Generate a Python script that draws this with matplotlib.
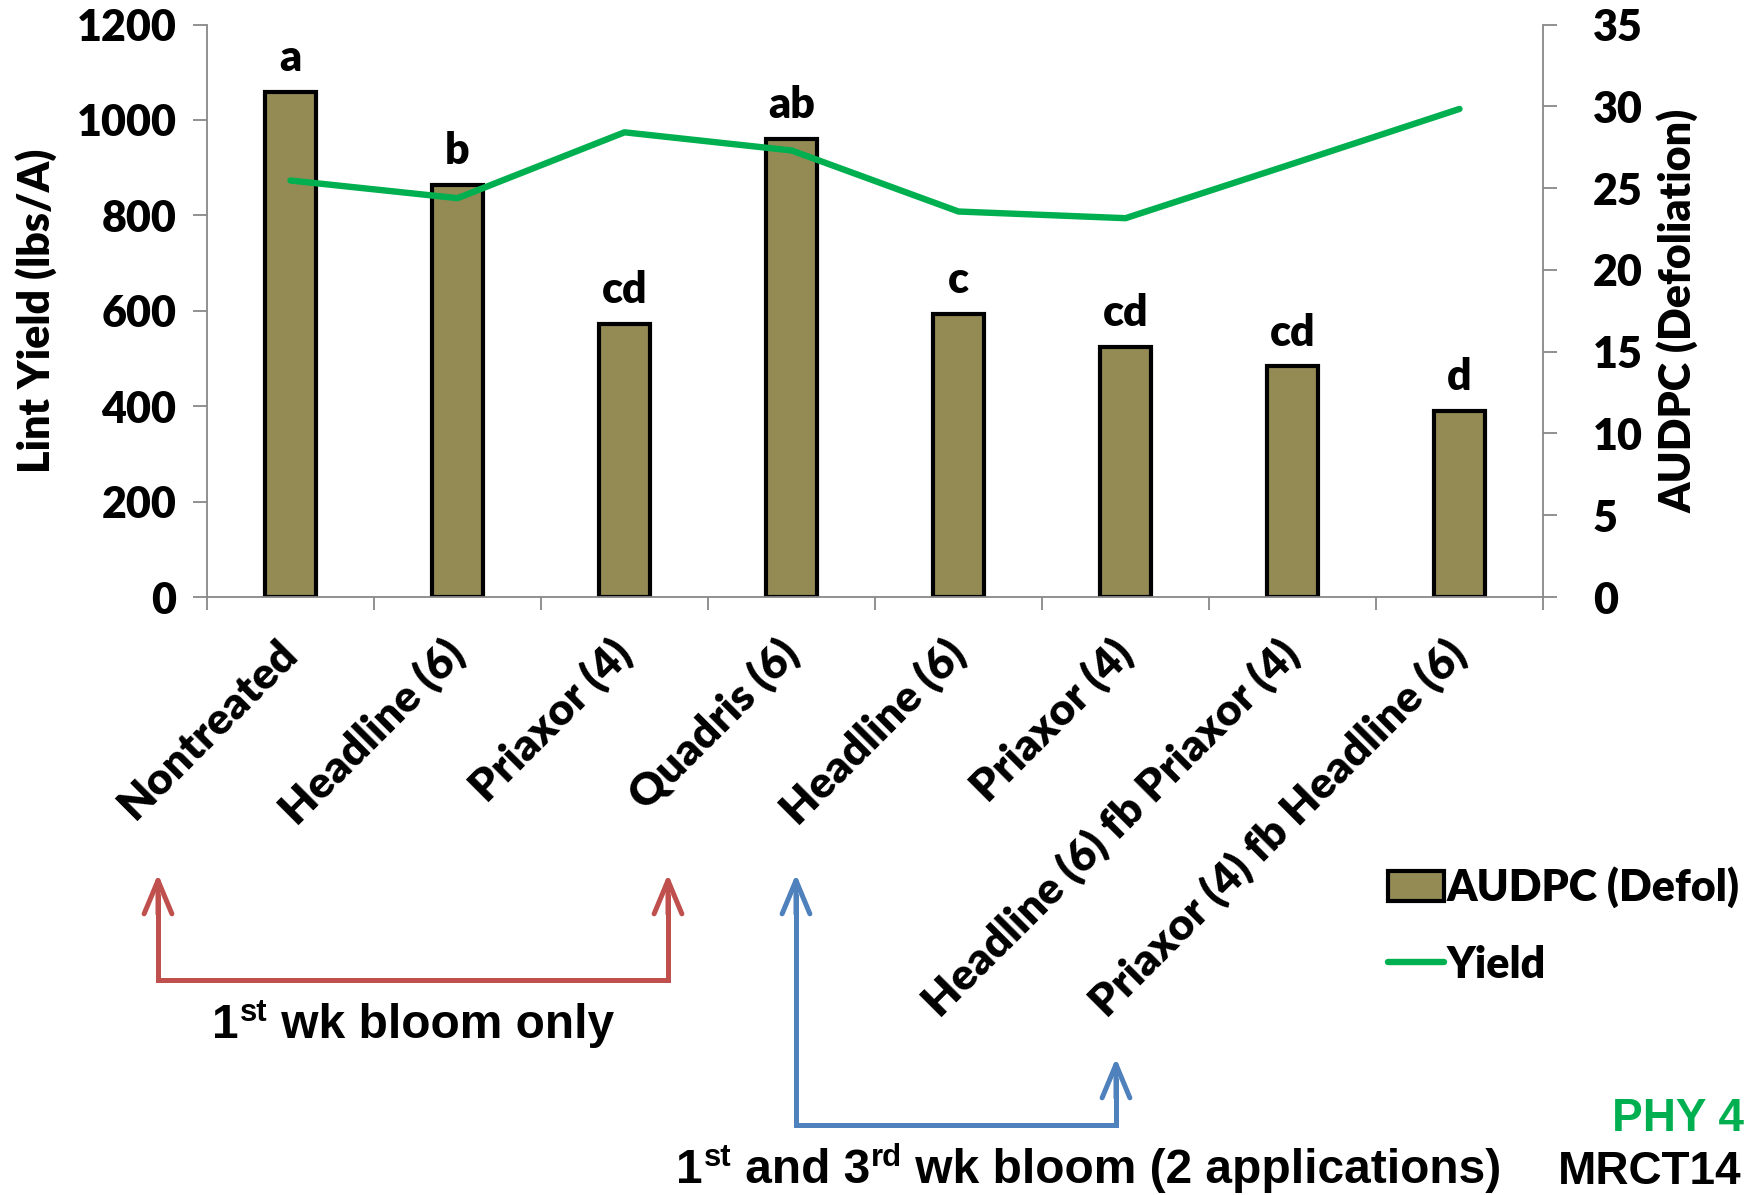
import numpy as np
import matplotlib.pyplot as plt
from matplotlib.lines import Line2D

# data
treatments = ['Nontreated', 'Headline (6)', 'Priaxor (4)', 'Quadris (6)',
              'Headline (6)', 'Priaxor (4)', 'Headline (6) fb Priaxor (4)',
              'Priaxor (4) fb Headline (6)']
audpc = [30.9, 25.2, 16.7, 28.0, 17.3, 15.3, 14.1, 11.4]
lint_yield = [873, 836, 974, 936, 808, 794, 908, 1023]
letters = ['a', 'b', 'cd', 'ab', 'c', 'cd', 'cd', 'd']
yield_ticks = [0, 200, 400, 600, 800, 1000, 1200]
audpc_ticks = [0, 5, 10, 15, 20, 25, 30, 35]

plt.rcParams['font.family'] = ['Lato', 'DejaVu Sans']
plt.rcParams['font.weight'] = 'heavy'

BAR = '#948A54'
GREEN = '#00B050'
RED = '#C0504D'
BLUE = '#4F81BD'
GREY = '#888888'
FS = 31
W = 'heavy'
NARROW = ['Liberation Sans Narrow', 'Liberation Sans', 'DejaVu Sans']

fig = plt.figure(figsize=(17.46, 11.95), dpi=100)
ax = fig.add_axes([207/1746, 1-597/1195, (1543-207)/1746, (597-24.5)/1195])
ax2 = ax.twinx()
x = np.arange(len(treatments))

# bars on the right (AUDPC) axis
bars = ax2.bar(x, audpc, width=0.3, color=BAR, edgecolor='black', linewidth=3,
               label='AUDPC (Defol)')
for xi, v, s in zip(x, audpc, letters):
    ax2.annotate(s, (xi, v), xytext=(0, 15), textcoords='offset points',
                 ha='center', va='baseline', fontsize=FS, fontweight=W)
ax2.set_ylim(0, 35)
ax2.set_yticks(audpc_ticks)

# yield line on the left axis, drawn above the bars
line, = ax.plot(x, lint_yield, color=GREEN, lw=4.6, solid_capstyle='round',
                solid_joinstyle='round', label='Yield')
ax.set_zorder(ax2.get_zorder() + 1)
ax.patch.set_visible(False)
ax.set_ylim(0, 1200)
ax.set_yticks(yield_ticks)
ax.set_xlim(-0.5, 7.5)
ax.set_xticks(x)
ax.set_xticklabels(treatments, rotation=45, ha='right', va='center',
                   rotation_mode='anchor', fontsize=32, fontweight=W)
ax.set_xticks(np.arange(-0.5, 8, 1), minor=True)
ax.tick_params(axis='x', which='major', length=0, pad=36)
ax.tick_params(axis='x', which='minor', length=9, width=1.3, color=GREY,
               direction='out')

for a in (ax, ax2):
    a.tick_params(axis='y', length=10, width=1.3, color=GREY, labelsize=FS)
    a.spines['top'].set_visible(False)
    for side in ('left', 'right', 'bottom'):
        a.spines[side].set_color(GREY)
        a.spines[side].set_linewidth(1.3)
ax.tick_params(axis='y', pad=12)
ax2.tick_params(axis='y', pad=26)
ax.spines['right'].set_visible(False)
ax2.spines['left'].set_visible(False)
ax2.spines['bottom'].set_visible(False)

ax.set_ylabel('Lint Yield (lbs/A)', fontsize=31, fontweight=W, labelpad=14)
ax2.set_ylabel('AUDPC (Defoliation)', fontsize=31, fontweight=W, labelpad=10)

fig.legend(handles=[bars, line], labels=['AUDPC (Defol)', 'Yield'],
           loc='upper left', bbox_to_anchor=(1388/1746, 1-866/1195),
           frameon=False, fontsize=FS, handlelength=1.3, handleheight=0.7,
           handletextpad=0.05, labelspacing=0.85, borderpad=0, borderaxespad=0)

# overlay in figure pixels for the bracket arrows and notes
ov = fig.add_axes([0, 0, 1, 1], zorder=-1)
ov.set_xlim(0, 1746)
ov.set_ylim(1195, 0)
ov.axis('off')


def bracket(x0, x1, y_base, top0, top1, color):
    ov.add_line(Line2D([x0, x0, x1, x1], [top0 + 20, y_base, y_base, top1 + 20],
                       color=color, lw=3.6, solid_joinstyle='miter',
                       solid_capstyle='butt'))
    for xx, tt in ((x0, top0), (x1, top1)):
        ov.annotate('', xy=(xx, tt), xytext=(xx, tt + 40),
                    arrowprops=dict(arrowstyle='->,head_length=1.2,head_width=0.5',
                                    color=color, lw=3.6, mutation_scale=20,
                                    shrinkA=0, shrinkB=0))


bracket(158, 668, 980, 874, 874, RED)
bracket(796, 1116, 1125, 874, 1058, BLUE)


def rich_text(x0, y0, pieces, size, color='black'):
    # pieces alternate normal / superscript
    first = ov.text(x0, y0, pieces[0], fontsize=size, va='bottom', ha='left',
                    family=NARROW, fontweight='bold', color=color)
    prev = first
    for i, txt in enumerate(pieces[1:], 1):
        sup = i % 2 == 1
        prev = ov.annotate(txt, xy=(1, 0), xycoords=(prev, first),
                           xytext=(1 if sup else 0, size*0.42 if sup else 0),
                           textcoords='offset points',
                           fontsize=size*0.65 if sup else size,
                           va='bottom', ha='left', family=NARROW,
                           fontweight='bold', color=color)


rich_text(212, 1048, ['1', 'st', ' wk bloom only'], 34.5)
rich_text(676, 1193, ['1', 'st', ' and 3', 'rd', ' wk bloom (2 applications)'], 34.5)

ov.text(1612, 1131, 'PHY 4', fontsize=33, fontweight='bold', family=NARROW,
        color=GREEN, va='baseline', ha='left')
ov.text(1558, 1184, 'MRCT14', fontsize=33, fontweight='bold', family=NARROW,
        color='black', va='baseline', ha='left')

fig.savefig('out.png', dpi=100)
